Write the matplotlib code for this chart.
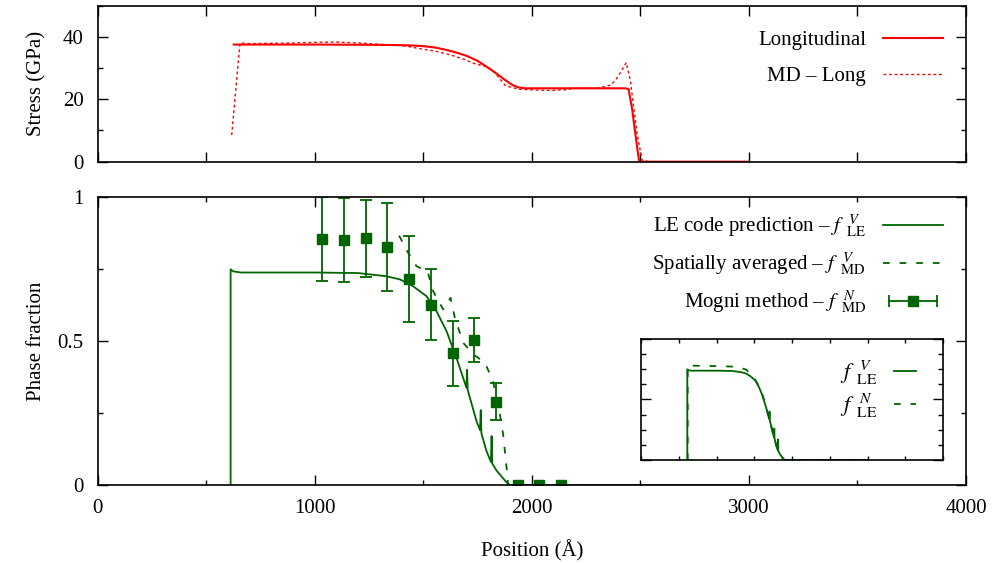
import numpy as np
import matplotlib
matplotlib.use("Agg")
import matplotlib.pyplot as plt
from matplotlib.lines import Line2D
from matplotlib.legend_handler import HandlerLine2D, HandlerTuple
from matplotlib.ticker import MultipleLocator

plt.rcParams['font.family'] = ['Liberation Serif', 'DejaVu Serif']
plt.rcParams['mathtext.fontset'] = 'stix'
plt.rcParams['font.size'] = 15

# top panel: stress
long_x = [627, 700, 1000, 1300, 1400, 1450, 1500, 1550, 1600, 1650, 1700, 1750, 1790,
          1830, 1880, 1910, 1937, 1970, 2100, 2300, 2431, 2446, 2454, 2462, 2477,
          2489, 2495, 2520, 3000]
long_y = [37.5, 37.5, 37.5, 37.4, 37.3, 37.2, 37.0, 36.6, 35.9, 35.0, 33.9, 32.3, 30.5,
          28.6, 26.0, 24.6, 23.8, 23.5, 23.5, 23.5, 23.5, 23.2, 20.0, 17.0, 9.0,
          2.7, 0.0, 0.0, 0.0]

md_long_x = [618, 656, 700, 800, 900, 1000, 1100, 1200, 1300, 1400, 1437, 1500, 1555,
             1620, 1680, 1731, 1770, 1800, 1830, 1879, 1940, 1996, 2084, 2150, 2203,
             2300, 2362, 2385, 2415, 2435, 2454, 2469, 2485, 2508, 2540, 3000]
md_long_y = [8.5, 38.0, 37.8, 37.9, 38.0, 38.2, 38.3, 38.0, 37.6, 37.2, 36.8, 36.0, 35.4,
             34.3, 33.0, 31.5, 30.8, 30.2, 28.5, 24.3, 23.2, 23.0, 22.8, 23.0, 23.5,
             23.5, 24.5, 26.0, 29.3, 31.7, 26.0, 17.6, 9.0, 0.5, 0.0, 0.0]

# bottom panel: phase fraction
le_x = [613, 613, 625, 660, 800, 1000, 1200, 1331, 1393, 1454, 1515, 1561, 1607, 1653,
        1699, 1702, 1705, 1745, 1762, 1765, 1768, 1791, 1812, 1815, 1818, 1838, 1884,
        1900, 3000]
le_y = [0.0, 0.749, 0.742, 0.738, 0.738, 0.738, 0.736, 0.725, 0.714, 0.69, 0.656, 0.604,
        0.535, 0.442, 0.338, 0.40, 0.33, 0.223, 0.19, 0.26, 0.18, 0.119, 0.08, 0.17,
        0.075, 0.05, 0.009, 0.0, 0.0]

md_avg_x = [1389, 1431, 1469, 1520, 1546, 1592, 1626, 1646, 1684, 1730, 1784, 1822,
            1853, 1868, 1884, 1891]
md_avg_y = [0.866, 0.806, 0.76, 0.742, 0.673, 0.61, 0.65, 0.58, 0.494, 0.454, 0.425,
            0.36, 0.246, 0.177, 0.061, 0.0]

mogni_x = [1035, 1135, 1235, 1335, 1435, 1535, 1635, 1735, 1835, 1935, 2035, 2135]
mogni_y = [0.854, 0.851, 0.857, 0.826, 0.716, 0.626, 0.458, 0.503, 0.29, 0.0, 0.0, 0.0]
mogni_err = [0.146, 0.147, 0.134, 0.152, 0.15, 0.124, 0.113, 0.077, 0.065, 0.0, 0.0, 0.0]

# inset: number-based LE fraction
len_x = [618, 618, 800, 1000, 1200, 1300, 1400, 1454, 1515, 1561, 1607, 1653, 1699,
         1745, 1791, 1838, 1884, 1900, 3000]
len_y = [0.0, 0.78, 0.778, 0.776, 0.772, 0.765, 0.745, 0.70, 0.66, 0.61, 0.54, 0.45,
         0.34, 0.23, 0.12, 0.05, 0.01, 0.0, 0.0]

red = '#ff0000'
green = '#006400'
dash = (0, (3.7, 5.5))


def style_axes(ax, maj=7, mn=3.6):
    for s in ax.spines.values():
        s.set_linewidth(1.2)
    ax.tick_params(which='both', direction='in', top=True, right=True, width=1.0)
    ax.tick_params(which='major', length=maj, pad=10)
    ax.tick_params(which='minor', length=mn)


def frac(sup, sub):
    return r'$f^{\ \ %s}_{\ \ \mathrm{%s}}$' % (sup, sub)


fig = plt.figure(figsize=(9.92, 5.63), dpi=100)
ax1 = fig.add_axes([0.0983, 0.7128, 0.8755, 0.2774])
ax2 = fig.add_axes([0.0983, 0.1385, 0.8755, 0.5115])

# top
ax1.plot(long_x, long_y, color=red, lw=1.5, label='Longitudinal')
ax1.plot(md_long_x, md_long_y, color=red, lw=1.0, ls=(0, (2, 2)), label='MD – Long')
ax1.set_xlim(0, 4000)
ax1.set_ylim(0, 50)
ax1.xaxis.set_major_locator(MultipleLocator(500))
ax1.set_xticklabels([])
ax1.yaxis.set_major_locator(MultipleLocator(20))
ax1.yaxis.set_minor_locator(MultipleLocator(10))
style_axes(ax1)
ax1.set_ylabel('Stress (GPa)')
ax1.yaxis.set_label_coords(-0.059, 0.5)
ax1.legend(loc='upper right', bbox_to_anchor=(0.9735, 0.84), frameon=False,
           markerfirst=False, handlelength=2.9, borderpad=0, borderaxespad=0,
           labelspacing=0.8, handletextpad=0.8)

# bottom
ax2.plot(le_x, le_y, color=green, lw=1.3)
ax2.plot(md_avg_x, md_avg_y, color=green, lw=1.3, ls=dash)
ax2.errorbar(mogni_x, mogni_y, yerr=mogni_err, color=green, lw=1.3, marker='s',
             markersize=7, capsize=4, capthick=1.3, ls='none', clip_on=True)
ax2.set_xlim(0, 4000)
ax2.set_ylim(0, 1)
ax2.xaxis.set_major_locator(MultipleLocator(1000))
ax2.xaxis.set_minor_locator(MultipleLocator(500))
ax2.yaxis.set_minor_locator(MultipleLocator(0.25))
ax2.set_yticks([0, 0.5, 1])
ax2.set_yticklabels(['0', '0.5', '1'])
style_axes(ax2)
ax2.set_ylabel('Phase fraction')
ax2.yaxis.set_label_coords(-0.059, 0.5)
ax2.set_xlabel('Position (Å)', labelpad=16)

h_le = Line2D([], [], color=green, lw=1.3)
h_md = Line2D([], [], color=green, lw=1.3, ls=dash)
h_cap = Line2D([], [], color=green, lw=1.3, marker='|', markersize=9, markeredgewidth=1.3)
h_sq = Line2D([], [], color=green, marker='s', markersize=7, ls='none')
ax2.legend([h_le, h_md, (h_cap, h_sq)],
           ['LE code prediction – ' + frac('V', 'LE'),
            'Spatially averaged – ' + frac('V', 'MD'),
            'Mogni method – ' + frac('N', 'MD')],
           handler_map={h_cap: HandlerLine2D(numpoints=2), tuple: HandlerTuple(ndivide=1)},
           loc='upper right', bbox_to_anchor=(0.9735, 0.945), frameon=False,
           markerfirst=False, handlelength=2.9, borderpad=0, borderaxespad=0,
           labelspacing=0.5, handletextpad=0.8)

# inset
ax3 = fig.add_axes([0.6462, 0.183, 0.3044, 0.2149])
ax3.plot(le_x, le_y, color=green, lw=1.3, label=frac('V', 'LE'))
ax3.plot(len_x, len_y, color=green, lw=1.3, ls=dash, label=frac('N', 'LE'))
ax3.set_xlim(0, 4000)
ax3.set_ylim(0, 1)
ax3.xaxis.set_major_locator(MultipleLocator(500))
ax3.yaxis.set_major_locator(MultipleLocator(0.5))
ax3.yaxis.set_minor_locator(MultipleLocator(0.125))
ax3.set_xticklabels([])
ax3.set_yticklabels([])
style_axes(ax3, maj=7, mn=3.6)
ax3.tick_params(axis='x', which='major', length=3)
ax3.legend(loc='upper right', bbox_to_anchor=(0.91, 0.84), frameon=False,
           markerfirst=False, handlelength=1.0, borderpad=0, borderaxespad=0,
           labelspacing=0.2, handletextpad=0.7, fontsize=16)

fig.savefig('out.png', dpi=100)
